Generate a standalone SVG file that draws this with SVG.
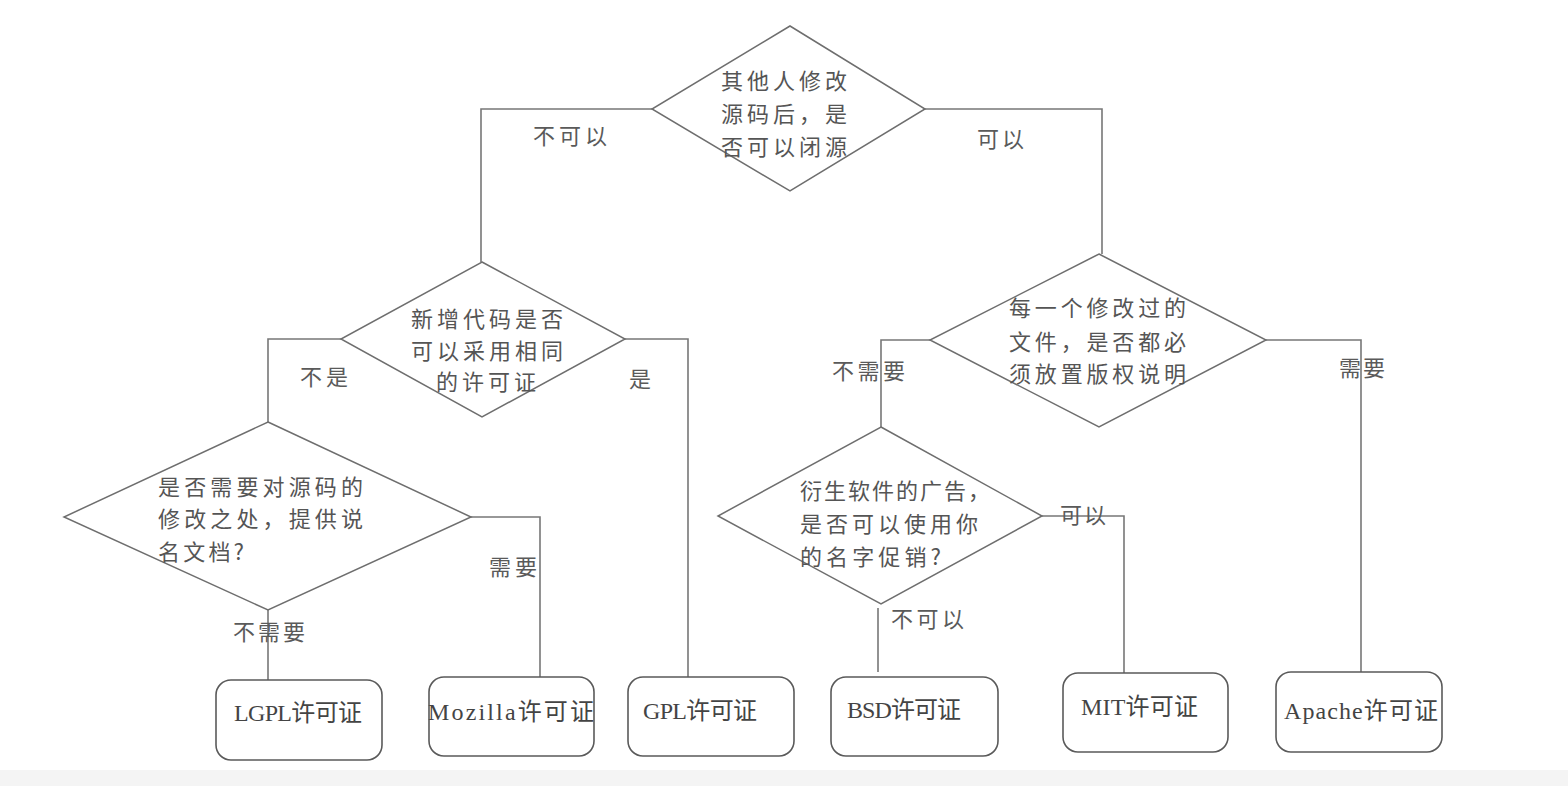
<svg xmlns="http://www.w3.org/2000/svg" width="1568" height="786" viewBox="0 0 1568 786">
<style>
.shape{fill:#fff;stroke:#6e6e6e;stroke-width:1.5}
.box{fill:#fff;stroke:#5a5a5a;stroke-width:1.6}
.conn{fill:none;stroke:#777;stroke-width:1.6}
text{font-family:"Noto Sans CJK SC","Noto Sans",sans-serif;font-size:22px;fill:#555;dominant-baseline:central}
.lbl{fill:#5a5a5a}
.bt{font-family:"Liberation Serif","Noto Sans CJK SC",serif;font-size:24px;fill:#444}
</style>
<rect x="0" y="0" width="1568" height="786" fill="#fff"/>
<rect x="0" y="770" width="1568" height="16" fill="#f4f4f4"/>

<g id="connectors">
<polyline class="conn" points="652,109 481,109 481,262"/>
<polyline class="conn" points="925,109 1102,109 1102,254"/>
<polyline class="conn" points="341,339 268,339 268,422"/>
<polyline class="conn" points="625,339 688,339 688,677"/>
<polyline class="conn" points="471,517 540,517 540,677"/>
<line class="conn" x1="268" y1="610" x2="268" y2="680"/>
<polyline class="conn" points="930,340 881,340 881,427"/>
<polyline class="conn" points="1266,340 1361,340 1361,672"/>
<polyline class="conn" points="1042,516 1124,516 1124,673"/>
<line class="conn" x1="878" y1="608" x2="878" y2="672"/>
<text class="lbl" x="533" y="134" textLength="74">不可以</text>
<text class="lbl" x="977" y="137" textLength="47">可以</text>
<text class="lbl" x="300" y="375" textLength="48">不是</text>
<text class="lbl" x="629" y="377">是</text>
<text class="lbl" x="489" y="565" textLength="48">需要</text>
<text class="lbl" x="233" y="630" textLength="72">不需要</text>
<text class="lbl" x="832" y="369" textLength="73">不需要</text>
<text class="lbl" x="1339" y="366" textLength="46">需要</text>
<text class="lbl" x="1060" y="513" textLength="46">可以</text>
<text class="lbl" x="891" y="617" textLength="73">不可以</text>
</g>

<g id="q-closed-source">
<polygon class="shape" points="790,26 925,109 790,191 652,109"/>
<text x="721" y="79" textLength="126">其他人修改</text>
<text x="721" y="112" textLength="126">源码后，是</text>
<text x="721" y="145" textLength="126">否可以闭源</text>
</g>

<g id="q-same-license">
<polygon class="shape" points="482,262 625,339 482,417 341,339"/>
<text x="411" y="317" textLength="152">新增代码是否</text>
<text x="411" y="349" textLength="152">可以采用相同</text>
<text x="436" y="380" textLength="100">的许可证</text>
</g>

<g id="q-doc">
<polygon class="shape" points="268,422 471,517 268,610 64,517"/>
<text x="158" y="485" textLength="205">是否需要对源码的</text>
<text x="158" y="517" textLength="205">修改之处，提供说</text>
<text x="158" y="550" textLength="86">名文档?</text>
</g>

<g id="q-copyright">
<polygon class="shape" points="1099,254 1266,340 1099,427 930,340"/>
<text x="1009" y="306" textLength="177">每一个修改过的</text>
<text x="1009" y="340" textLength="177">文件，是否都必</text>
<text x="1009" y="372" textLength="177">须放置版权说明</text>
</g>

<g id="q-promo">
<polygon class="shape" points="881,427 1042,516 881,604 718,516"/>
<text x="800" y="489" textLength="190">衍生软件的广告，</text>
<text x="800" y="522" textLength="178">是否可以使用你</text>
<text x="800" y="555" textLength="141">的名字促销?</text>
</g>

<g id="lgpl">
<rect class="box" x="216" y="680" width="166" height="80" rx="15"/>
<text class="bt" x="234" y="713" textLength="128">LGPL许可证</text>
</g>
<g id="mozilla">
<rect class="box" x="429" y="677" width="165" height="79" rx="15"/>
<text class="bt" x="428" y="712" textLength="166">Mozilla许可证</text>
</g>
<g id="gpl">
<rect class="box" x="628" y="677" width="166" height="79" rx="15"/>
<text class="bt" x="643" y="711" textLength="114">GPL许可证</text>
</g>
<g id="bsd">
<rect class="box" x="831" y="677" width="167" height="79" rx="15"/>
<text class="bt" x="847" y="710" textLength="114">BSD许可证</text>
</g>
<g id="mit">
<rect class="box" x="1063" y="673" width="165" height="79" rx="15"/>
<text class="bt" x="1081" y="707" textLength="117">MIT许可证</text>
</g>
<g id="apache">
<rect class="box" x="1276" y="672" width="166" height="80" rx="15"/>
<text class="bt" x="1284" y="711" textLength="154">Apache许可证</text>
</g>
</svg>
